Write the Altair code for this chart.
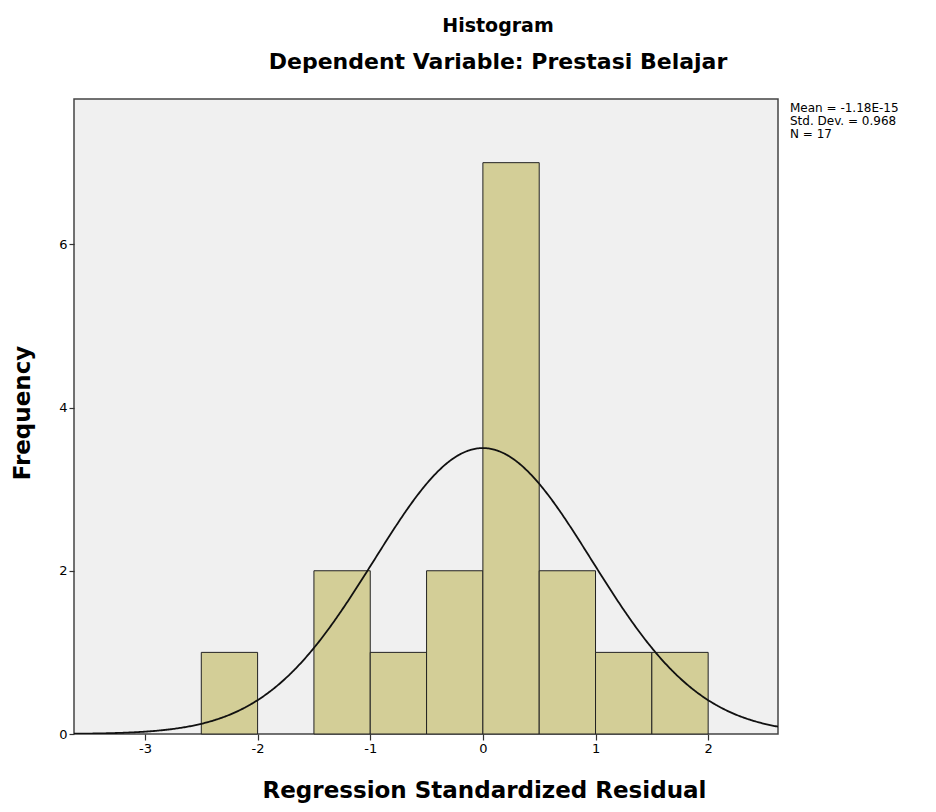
import altair as alt
import pandas as pd

# ---- data ----
BIN_START = [-2.5, -1.5, -1.0, -0.5, 0.0, 0.5, 1.0, 1.5]
BIN_END = [-2.0, -1.0, -0.5, 0.0, 0.5, 1.0, 1.5, 2.0]
COUNTS = [1, 2, 1, 2, 7, 2, 1, 1]
MEAN = -1.18e-15
STD_DEV = 0.968
N = 17
BIN_WIDTH = 0.5
X_TICKS = [-3, -2, -1, 0, 1, 2]
Y_TICKS = [0, 2, 4, 6]
X_DOMAIN = [-3.63, 2.62]
Y_DOMAIN = [0, 7.78]
STATS_LINES = ["Mean = -1.18E-15", "Std. Dev. = 0.968", "N = 17"]
TITLE = "Histogram"
SUBTITLE = "Dependent Variable: Prestasi Belajar"
X_TITLE = "Regression Standardized Residual"
Y_TITLE = "Frequency"

W, H = 704, 635
FONT = "DejaVu Sans"

bins = pd.DataFrame({"start": BIN_START, "end": BIN_END, "count": COUNTS,
                     "base": [0] * len(COUNTS)})

xscale = alt.Scale(domain=X_DOMAIN, nice=False, zero=False)
yscale = alt.Scale(domain=Y_DOMAIN, nice=False)

bars = alt.Chart(bins).mark_rect(fill="#d3ce97", stroke="#222222", strokeWidth=1).encode(
    x=alt.X("start:Q", scale=xscale,
            axis=alt.Axis(values=X_TICKS, labelExpr="'' + datum.value", title=X_TITLE,
                          titleX=410, titleY=63, titleAlign="center",
                          titleBaseline="alphabetic", tickSize=6, labelPadding=2)),
    x2="end:Q",
    y=alt.Y("count:Q", scale=yscale,
            axis=alt.Axis(values=Y_TICKS, labelExpr="'' + datum.value", title=Y_TITLE,
                          titleX=-52, titleY=H / 2 - 4, titleAngle=270,
                          titleAlign="center", titleBaseline="middle",
                          tickSize=5, labelPadding=2)),
    y2="base:Q",
)

amp = N * BIN_WIDTH
curve = alt.Chart(alt.sequence(X_DOMAIN[0], X_DOMAIN[1] + 0.01, 0.01, as_="x")).transform_calculate(
    y=f"{amp}/({STD_DEV}*sqrt(2*PI))*exp(-0.5*pow((datum.x-({MEAN}))/{STD_DEV},2))"
).mark_line(color="#111111", strokeWidth=1.8, clip=True).encode(
    x=alt.X("x:Q", scale=xscale),
    y=alt.Y("y:Q", scale=yscale),
)

stats = alt.Chart(pd.DataFrame({"k": [0]})).mark_text(
    align="left", baseline="top", font=FONT, fontSize=12, lineHeight=13, color="black"
).encode(
    x=alt.value(W + 12),
    y=alt.value(4),
    text=alt.value(STATS_LINES),
)

chart = alt.layer(bars, curve, stats).properties(
    width=W, height=H,
    background="white",
    title=alt.TitleParams(text=TITLE, subtitle=SUBTITLE, anchor="middle", frame="group",
                          dx=72, offset=26, subtitlePadding=16),
    autosize=alt.AutoSizeParams(type="none"),
    padding={"left": 66, "top": 91, "right": 150, "bottom": 70},
).configure_view(
    fill="#f0f0f0", stroke="#444444", strokeWidth=1.5
).configure_axis(
    grid=False, domain=False, tickColor="#333333", tickWidth=1.2,
    labelFont=FONT, labelFontSize=13, labelColor="black",
    titleFont=FONT, titleFontSize=23, titleFontWeight="bold", titleColor="black",
).configure_title(
    font=FONT, fontSize=19, fontWeight="bold", color="black",
    subtitleFont=FONT, subtitleFontSize=22, subtitleFontWeight="bold", subtitleColor="black",
)

chart.save("out.html", embed_options={"renderer": "svg", "actions": False})
